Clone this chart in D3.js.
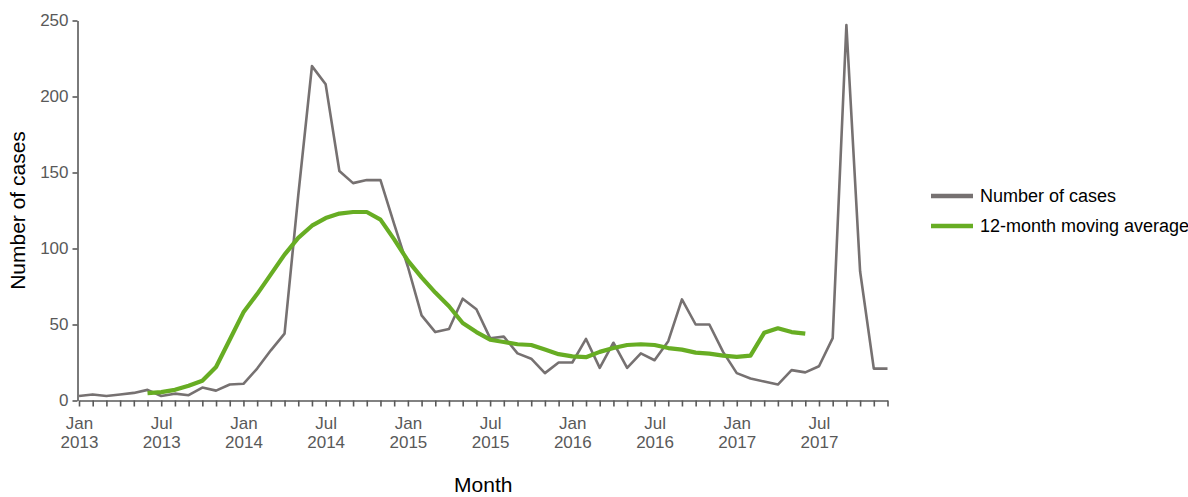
<!DOCTYPE html>
<html>
<head>
<meta charset="utf-8">
<script src="https://cdn.jsdelivr.net/npm/d3@7"></script>
<style>
	body { margin: 0; background: #fff; }
	svg text { font-family: "Liberation Sans", Arial, sans-serif; }
</style>
</head>
<body>
<div id="chart-area"></div>
<script>
// months Jan 2013 .. Dec 2017
const months = d3.range(60).map(i => new Date(2013, i, 1));

// monthly number of cases
const cases = [
	3, 4, 3, 4, 5, 7, 3, 4.5, 3.5, 8.5, 6.5, 10.5,
	11, 21, 33, 44, 135, 220, 208, 151, 143, 145, 145, 116,
	88, 56, 45, 47, 67, 60, 41, 42, 31, 27.5, 18, 25,
	25, 40.5, 21.5, 38, 21.5, 31, 26.5, 39, 66.5, 50, 50, 32,
	18, 14.5, 12.5, 10.5, 20, 18.5, 22.5, 41, 247, 85, 21, 21
];

// 12-month moving average (Jun 2013 .. Jun 2017)
const avgStart = 5;
const movingAvg = [
	4.8, 5.5, 7, 9.7, 13, 22, 40,
	58, 70, 83, 96, 107, 115, 120, 123, 124, 124, 119, 106,
	92, 81, 71, 62, 51, 45, 40, 38.5, 37, 36.5, 33.5, 30.5,
	29, 28.5, 32, 34.5, 36.5, 37, 36.5, 34.5, 33.5, 31.5, 30.8, 29.5,
	28.7, 29.5, 44.5, 47.5, 45, 44
];

const yTicks = [0, 50, 100, 150, 200, 250];
const seriesNames = ["Number of cases", "12-month moving average"];
const seriesColors = ["#767171", "#67ad23"];

const margin = {top: 20.5, left: 79, right: 300.5, bottom: 96.5};
const W = 1188, H = 497;

const svg = d3.select("#chart-area").append("svg")
	.attr("width", W)
	.attr("height", H);

// X scale - one slot per month
let x = d3.scalePoint()
	.domain(d3.range(months.length))
	.range([margin.left, W - margin.right]);

// Y scale
let y = d3.scaleLinear()
	.domain([0, 250])
	.range([H - margin.bottom, margin.top]);

const fmtMon = d3.timeFormat("%b"), fmtYear = d3.timeFormat("%Y");

// x axis
let xAxis = d3.axisBottom(x)
	.tickSize(6)
	.tickSizeOuter(0)
	.tickFormat(() => "");

let gx = svg.append("g")
	.attr("transform", "translate(0," + y(0) + ")")
	.call(xAxis);

gx.selectAll(".tick text").each(function(i) {
	const m = months[i];
	if (m.getMonth() % 6 !== 0) return;
	const t = d3.select(this).attr("y", 12).attr("dy", null);
	t.append("tspan").attr("x", 0).attr("dy", "0.95em").text(fmtMon(m));
	t.append("tspan").attr("x", 0).attr("dy", "1.15em").text(fmtYear(m));
});

// y axis
let yAxis = d3.axisLeft(y)
	.tickValues(yTicks)
	.tickSize(5)
	.tickSizeOuter(0);

let gy = svg.append("g")
	.attr("transform", "translate(" + (margin.left - 1.5) + ",0)")
	.call(yAxis);

svg.selectAll(".domain, .tick line")
	.attr("stroke", "#595959")
	.attr("stroke-width", 1.6);
svg.selectAll(".tick text")
	.attr("fill", "#595959")
	.style("font-size", "17px");
gy.selectAll(".tick text").attr("x", -9);

// lines
let line = d3.line()
	.x(d => x(d.i))
	.y(d => y(d.v));

svg.append("path")
	.datum(cases.map((v, i) => ({i: i, v: v})))
	.attr("fill", "none")
	.attr("stroke", seriesColors[0])
	.attr("stroke-width", 2.6)
	.attr("stroke-linejoin", "round")
	.attr("d", line);

svg.append("path")
	.datum(movingAvg.map((v, k) => ({i: k + avgStart, v: v})))
	.attr("fill", "none")
	.attr("stroke", seriesColors[1])
	.attr("stroke-width", 4.2)
	.attr("stroke-linejoin", "round")
	.attr("d", line);

// axis titles
svg.append("text")
	.attr("transform", "translate(25," + ((y(0) + y(250)) / 2) + ") rotate(-90)")
	.attr("text-anchor", "middle")
	.style("font-size", "21px")
	.attr("fill", "#000")
	.text("Number of cases");

svg.append("text")
	.attr("x", (margin.left + W - margin.right) / 2)
	.attr("y", 492)
	.attr("text-anchor", "middle")
	.style("font-size", "21px")
	.attr("fill", "#000")
	.text("Month");

// legend
let legend = svg.append("g").attr("transform", "translate(931,196)");
seriesNames.forEach((name, k) => {
	const g = legend.append("g").attr("transform", "translate(0," + k * 30 + ")");
	g.append("line")
		.attr("x1", 0).attr("x2", 42)
		.attr("stroke", seriesColors[k])
		.attr("stroke-width", 4.5);
	g.append("text")
		.attr("x", 49)
		.attr("dy", "0.35em")
		.style("font-size", "18px")
		.attr("fill", "#000")
		.text(name);
});
</script>
</body>
</html>
